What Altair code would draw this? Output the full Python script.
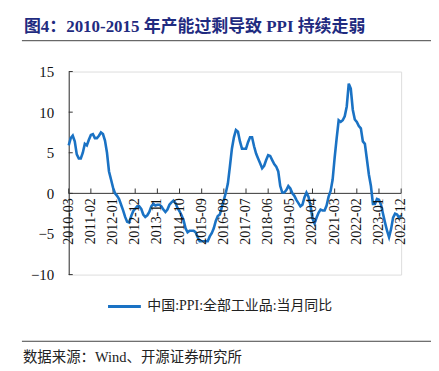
import altair as alt
import pandas as pd

SERIES = "中国:PPI:全部工业品:当月同比"
TITLE = "图4：2010-2015 年产能过剩导致 PPI 持续走弱"
SOURCE = "数据来源：Wind、开源证券研究所"

ppi_2010 = [5.9, 6.8, 7.1, 6.4, 4.8, 4.3, 4.3, 5.0, 6.1, 5.9]  # 2010-03 .. 2010-12
ppi_2011 = [6.6, 7.2, 7.3, 6.8, 6.8, 7.1, 7.5, 7.3, 6.5, 5.0, 2.7, 1.7]
ppi_2012 = [0.7, 0.0, -0.3, -0.7, -1.4, -2.1, -2.9, -3.5, -3.6, -2.8, -2.2, -1.9]
ppi_2013 = [-1.6, -1.6, -1.9, -2.6, -2.9, -2.7, -2.3, -1.6, -1.3, -1.5, -1.4, -1.4]
ppi_2014 = [-1.6, -2.0, -2.3, -2.0, -1.4, -1.1, -0.9, -1.2, -1.8, -2.2, -2.7, -3.3]
ppi_2015 = [-4.3, -4.8, -4.6, -4.6, -4.6, -4.8, -5.4, -5.9, -5.9, -5.9, -5.9, -5.9]
ppi_2016 = [-5.3, -4.9, -4.3, -3.4, -2.8, -2.6, -1.7, -0.8, 0.1, 1.2, 3.3, 5.5]
ppi_2017 = [6.9, 7.8, 7.6, 6.4, 5.5, 5.5, 5.5, 6.3, 6.9, 6.9, 5.8, 4.9]
ppi_2018 = [4.3, 3.7, 3.1, 3.4, 4.1, 4.7, 4.6, 4.1, 3.6, 3.3, 2.7, 0.9]
ppi_2019 = [0.1, 0.1, 0.4, 0.9, 0.6, 0.0, -0.3, -0.8, -1.2, -1.6, -1.4, -0.5]
ppi_2020 = [0.1, -0.4, -1.5, -3.1, -3.7, -3.0, -2.4, -2.0, -2.1, -2.1, -1.5, -0.4]
ppi_2021 = [0.3, 1.7, 4.4, 6.8, 9.0, 8.8, 9.0, 9.5, 10.7, 13.5, 12.9, 10.3]
ppi_2022 = [9.1, 8.8, 8.3, 8.0, 6.4, 6.1, 4.2, 2.3, 0.9, -1.3, -1.3, -0.7]
ppi_2023 = [-0.8, -1.4, -2.5, -3.6, -4.6, -5.4, -4.4, -3.0, -2.5, -2.6, -3.0, -2.7]

tick_labels = ["2010-03", "2011-02", "2012-01", "2012-12", "2013-11", "2014-10",
               "2015-09", "2016-08", "2017-07", "2018-06", "2019-05", "2020-04",
               "2021-03", "2022-02", "2023-01", "2023-12"]
y_ticks = [-10, -5, 0, 5, 10, 15]

values = (ppi_2010 + ppi_2011 + ppi_2012 + ppi_2013 + ppi_2014 + ppi_2015 + ppi_2016
          + ppi_2017 + ppi_2018 + ppi_2019 + ppi_2020 + ppi_2021 + ppi_2022 + ppi_2023)
months = pd.period_range("2010-03", periods=len(values), freq="M")
df = pd.DataFrame({"idx": range(len(values)), "month": [str(m) for m in months],
                   "ppi": values, "series": SERIES})
label_idx = {str(m): i for i, m in enumerate(months)}
ticks_df = pd.DataFrame({"label": tick_labels, "idx": [label_idx[t] for t in tick_labels],
                         "y0": 0.0, "y1": 0.6})
ytick_df = pd.DataFrame({"y": y_ticks, "x0": 0, "x1": 2})
last = len(values) - 1
zero_df = pd.DataFrame({"x0": [0], "x1": [last], "y": [0]})
one = pd.DataFrame({"a": [0]})

FONT = "Liberation Serif, Noto Sans CJK SC"
BLUE = "#1A72C4"
AXC = "#333333"

xs = alt.Scale(domain=[0, last], nice=False, zero=False)
ys = alt.Scale(domain=[-10, 15], nice=False, zero=False)

line = alt.Chart(df).mark_line(strokeWidth=2.6).encode(
    x=alt.X("idx:Q", scale=xs, axis=None),
    y=alt.Y("ppi:Q", scale=ys, title=None,
            axis=alt.Axis(values=y_ticks, ticks=False, grid=False, domainColor=AXC,
                          labelFont=FONT, labelFontSize=15, labelColor="#111",
                          labelPadding=15)),
    color=alt.Color("series:N", scale=alt.Scale(domain=[SERIES], range=[BLUE]),
                    legend=alt.Legend(title=None, orient="none", legendX=38, legendY=218,
                                      symbolType="stroke", symbolSize=1089,
                                      symbolStrokeWidth=3, labelFont=FONT,
                                      labelFontSize=14, labelColor="#222",
                                      labelOffset=5, padding=0, labelLimit=0)),
)

zero = alt.Chart(zero_df).mark_rule(color=AXC, strokeWidth=1).encode(
    x=alt.X("x0:Q", scale=xs, axis=None), x2="x1:Q", y=alt.Y("y:Q", scale=ys))

xticks = alt.Chart(ticks_df).mark_rule(color=AXC, strokeWidth=1).encode(
    x=alt.X("idx:Q", scale=xs, axis=None), y=alt.Y("y0:Q", scale=ys), y2="y1:Q")

xlabels = alt.Chart(ticks_df).mark_text(angle=270, align="right", baseline="middle",
                                        dx=-5, font=FONT, fontSize=14, color="#111").encode(
    x=alt.X("idx:Q", scale=xs, axis=None), y=alt.Y("y0:Q", scale=ys), text="label:N")

yticks = alt.Chart(ytick_df).mark_rule(color=AXC, strokeWidth=1).encode(
    x=alt.X("x0:Q", scale=xs, axis=None), x2="x1:Q", y=alt.Y("y:Q", scale=ys))

title = alt.Chart(one).mark_text(align="left", baseline="alphabetic", font=FONT,
                                 fontSize=17, fontWeight="bold", color="#1F2B80").encode(
    x=alt.value(-45), y=alt.value(-40), text=alt.value(TITLE))
title_rule = alt.Chart(one).mark_rule(color="#444", strokeWidth=1).encode(
    x=alt.value(-47), x2=alt.value(364), y=alt.value(-31))
foot_rule = alt.Chart(one).mark_rule(color="#444", strokeWidth=1).encode(
    x=alt.value(-47), x2=alt.value(364), y=alt.value(271))
foot = alt.Chart(one).mark_text(align="left", baseline="alphabetic", font=FONT,
                                fontSize=14.5, color="#222").encode(
    x=alt.value(-46), y=alt.value(292), text=alt.value(SOURCE))

chart = alt.layer(zero, xticks, yticks, line, xlabels, title, title_rule, foot_rule, foot).properties(
    width=334, height=204,
    autosize=alt.AutoSizeParams(type="none"),
    padding={"left": 61, "top": 63, "right": 30, "bottom": 90},
).configure_view(stroke=None).configure(background="white")

chart.save("out.html", embed_options={"renderer": "svg", "actions": False})
